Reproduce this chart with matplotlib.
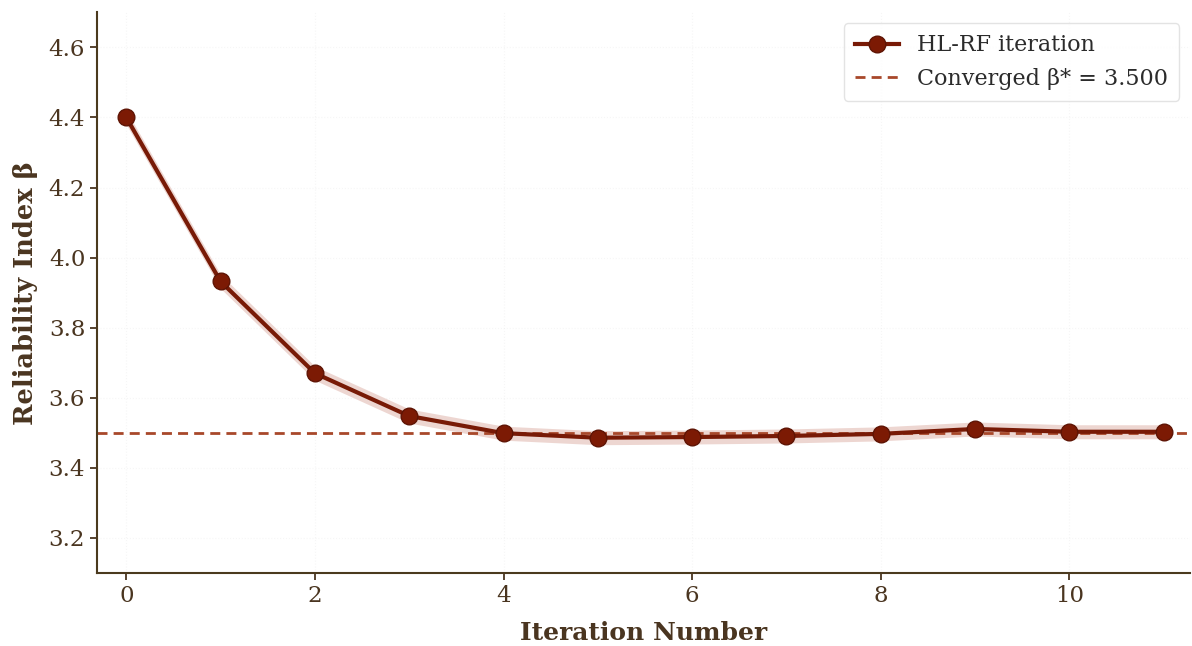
import numpy as np
import matplotlib.pyplot as plt

# HL-RF iteration history
iterations = list(range(12))
beta = [4.400, 3.932, 3.670, 3.548, 3.499, 3.486, 3.488, 3.491, 3.497, 3.511, 3.503, 3.503]
band = [0.02] * 12
beta_star = 3.500

text_col = '#4a3520'
line_col = '#781a06'
dash_col = '#a8482a'

plt.rcParams['font.family'] = ['DejaVu Serif']

fig = plt.figure(figsize=(11.92, 6.46), dpi=100)
ax = fig.add_axes([0.0814, 0.113, 0.917, 0.868])

b = np.array(beta)
w = np.array(band)
ax.fill_between(iterations, b - w, b + w, color='#d9a59a', alpha=0.45, linewidth=0)
ax.plot(iterations, beta, '-o', color=line_col, lw=3, ms=12,
        markerfacecolor='#7c1a04', markeredgecolor='#5e1404', markeredgewidth=1.0,
        label='HL-RF iteration', zorder=3)
ax.axhline(beta_star, color=dash_col, ls='--', lw=2, dashes=(3.6, 2.2),
           label=f'Converged β* = {beta_star:.3f}', zorder=2)

ax.set_xlim(-0.31, 11.28)
ax.set_ylim(3.1, 4.7)
ax.set_xticks([0, 2, 4, 6, 8, 10])
ax.set_yticks([3.2, 3.4, 3.6, 3.8, 4.0, 4.2, 4.4, 4.6])

ax.grid(True, ls=':', color='#dddddd', alpha=0.25, lw=0.8)
for s in ['top', 'right']:
    ax.spines[s].set_visible(False)
for s in ['left', 'bottom']:
    ax.spines[s].set_color('#4b3a1e')
    ax.spines[s].set_linewidth(1.5)
ax.tick_params(colors=text_col, labelsize=16.5, length=5, width=1.3)
for lab in ax.get_xticklabels() + ax.get_yticklabels():
    lab.set_color(text_col)

ax.set_xlabel('Iteration Number', fontsize=18, fontweight='bold', color=text_col, labelpad=10)
ax.set_ylabel('Reliability Index β', fontsize=18.5, fontweight='bold', color=text_col, labelpad=8)

leg = ax.legend(loc='upper right', fontsize=16, frameon=True, fancybox=True,
                edgecolor='#dddddd', borderpad=0.5)
for t in leg.get_texts():
    t.set_color('#2b2b2b')

fig.savefig('out.png', dpi=100)
